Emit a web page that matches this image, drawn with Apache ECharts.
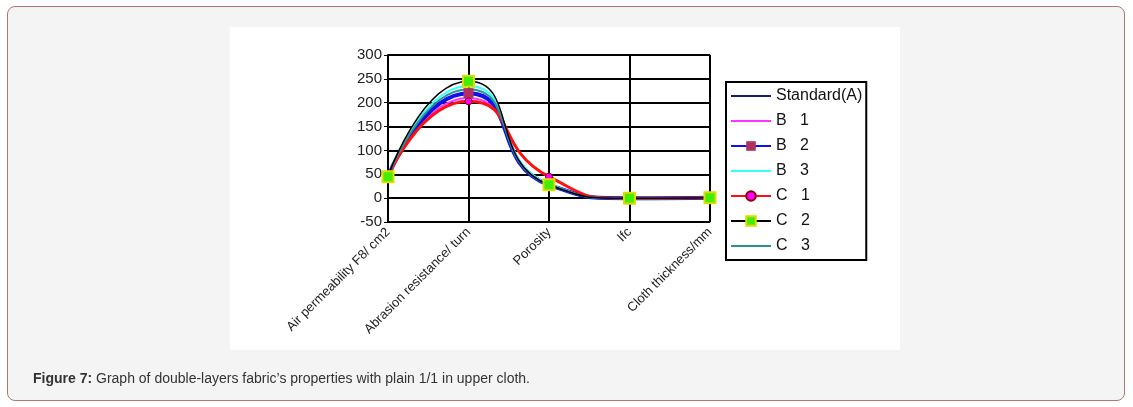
<!DOCTYPE html>
<html>
<head>
<meta charset="utf-8">
<script src="https://cdn.jsdelivr.net/npm/echarts@6/dist/echarts.min.js"></script>
<style>
  body { margin: 0; background: #fff; font-family: Arial, "Liberation Sans", sans-serif; }
  #box { position: absolute; left: 7px; top: 6px; width: 1116px; height: 393px; border: 1px solid #b5766a; border-radius: 8px; background: #f4f4f4; }
  #chart { position: absolute; left: 0; top: 0; width: 1133px; height: 407px; }
  #cap { position: absolute; left: 33px; top: 370px; font-size: 14px; color: #333; }
</style>
</head>
<body>
<div id="box"></div>
<div id="chart"></div>
<div id="cap"><b>Figure 7:</b> Graph of double-layers fabric’s properties with plain 1/1 in upper cloth.</div>
<script>
var categories = ['Air permeability F8/ cm2', 'Abrasion resistance/ turn', 'Porosity', 'Ifc', 'Cloth thickness/mm'];
var names = ['Standard(A)', 'B   1', 'B   2', 'B   3', 'C   1', 'C   2', 'C   3'];
var stdA = [45, 220, 28, 0, 1];
var b1 = [45, 210, 30, 0, 1];
var b2 = [45, 220, 28, 0, 1];
var b3 = [45, 235, 30, 0, 1];
var c1 = [45, 203, 45, 0, 1];
var c2 = [45, 245, 28, 0, 1];
var c3 = [45, 228, 28, 0, 1];
var colors = ['#1a1a7a', '#ff33ff', '#1010ee', '#33ffff', '#ff1010', '#000000', '#2e9090'];
var widths = [2, 2, 4, 2, 3, 1.5, 2];
var data = [stdA, b1, b2, b3, c1, c2, c3];
var marked = [2, 4, 5];

var chart = echarts.init(document.getElementById('chart'));
chart.setOption({
  graphic: [{ type: 'rect', shape: { x: 230, y: 27, width: 670, height: 323 }, style: { fill: '#fff' }, z: -10 }],
  grid: { left: 388, right: 423, top: 55, bottom: 185, show: true, borderColor: '#999', borderWidth: 1.5 },
  legend: {
    orient: 'vertical', left: 726, top: 82,
    data: names.map(function (n, i) {
      return marked.indexOf(i) >= 0 ? { name: n } : { name: n, itemStyle: { opacity: 0 } };
    }),
    backgroundColor: '#fff', borderColor: '#000', borderWidth: 2, borderRadius: 0,
    padding: [6, 4, 6, 4], itemGap: 9, itemWidth: 40, itemHeight: 12,
    textStyle: { fontSize: 16, color: '#111', fontFamily: 'Arial' }
  },
  xAxis: {
    type: 'category', data: categories, boundaryGap: false,
    axisLine: { lineStyle: { color: '#000', width: 2 } },
    axisTick: { show: false },
    splitLine: { show: true, lineStyle: { color: '#000', width: 2 } },
    axisLabel: { rotate: 45, color: '#222', fontSize: 13, margin: 8, interval: 0 }
  },
  yAxis: {
    type: 'value', min: -50, max: 300, interval: 50,
    axisLine: { show: true, lineStyle: { color: '#000', width: 2 } },
    axisTick: { show: true, length: 4, lineStyle: { color: '#000' } },
    splitLine: { lineStyle: { color: '#000', width: 2 } },
    axisLabel: { color: '#222', fontSize: 15, margin: 6 }
  },
  series: data.map(function (d, i) {
    var s = {
      name: names[i], type: 'line', data: d, smooth: 0.6,
      lineStyle: { color: colors[i], width: widths[i] },
      itemStyle: { color: colors[i] },
      symbol: 'none'
    };
    if (i === 2) { s.symbol = 'rect'; s.symbolSize = 10; s.itemStyle = { color: '#b03060' }; }
    if (i === 4) { s.symbol = 'circle'; s.symbolSize = 7; s.itemStyle = { color: '#ff00ff', borderColor: '#880000', borderWidth: 1 }; }
    if (i === 5) { s.symbol = 'rect'; s.symbolSize = 11; s.itemStyle = { color: '#44ee00', borderColor: '#dddd00', borderWidth: 2 }; s.z = 5; }
    return s;
  })
});
</script>
</body>
</html>
